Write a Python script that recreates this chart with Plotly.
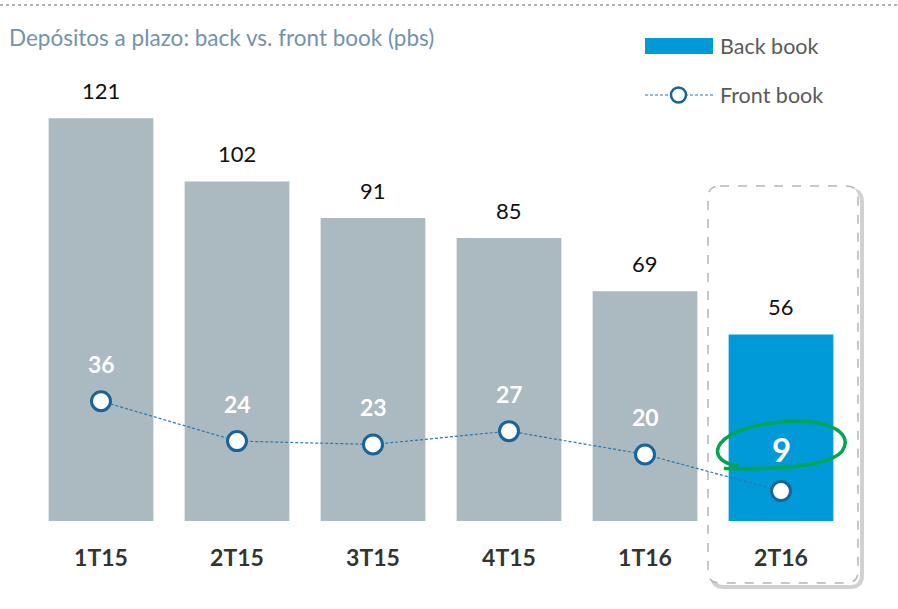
import plotly.graph_objects as go

categories = ["1T15", "2T15", "3T15", "4T15", "1T16", "2T16"]
back_book = [121, 102, 91, 85, 69, 56]
front_book = [36, 24, 23, 27, 20, 9]
bar_colors = ["#abb9c1"] * 5 + ["#009ad8"]

W, H = 898, 609
L, R, T, B = 33, 49, 60, 88
PW, PH = W - L - R, H - T - B
YMAX = 138.5

def px(xp):
    return (xp - L) / PW

def py(yp):
    return (H - B - yp) / PH

fig = go.Figure()
fig.add_trace(go.Bar(x=categories, y=back_book, marker=dict(color=bar_colors, line=dict(width=0)),
                     width=0.77, showlegend=False, hoverinfo="skip"))
fig.add_trace(go.Scatter(x=categories, y=front_book, mode="lines+markers",
                         line=dict(color="#2a78b0", width=1.2, dash="3px,2px"),
                         marker=dict(size=19, color="white", line=dict(color="#17649a", width=3)),
                         showlegend=False, hoverinfo="skip"))

ann = []
FONT = "Lato, 'Open Sans', sans-serif"
for c, v in zip(categories, back_book):
    ann.append(dict(x=c, y=v, text=str(v), showarrow=False, yshift=28,
                    font=dict(size=22, color="#111111", family=FONT)))
for i, (c, v) in enumerate(zip(categories, front_book)):
    last = i == len(categories) - 1
    ann.append(dict(x=c, y=v, text="<b>%d</b>" % v, showarrow=False, yshift=42 if last else 37,
                    font=dict(size=33 if last else 23, color="white", family=FONT)))

# title
ann.append(dict(xref="paper", yref="paper", x=px(7), y=py(38), xanchor="left", yanchor="middle",
                text="Depósitos a plazo: back vs. front book (pbs)", showarrow=False,
                font=dict(size=22.5, color="#7293ad", family=FONT)))
# legend texts
ann.append(dict(xref="paper", yref="paper", x=px(718), y=py(46), xanchor="left", yanchor="middle",
                text="Back book", showarrow=False, font=dict(size=21.5, color="#595959", family=FONT)))
ann.append(dict(xref="paper", yref="paper", x=px(718), y=py(95), xanchor="left", yanchor="middle",
                text="Front book", showarrow=False, font=dict(size=21.5, color="#595959", family=FONT)))

shapes = []
# top dotted rule
shapes.append(dict(type="line", xref="paper", yref="paper", x0=px(0), x1=px(898), y0=py(5), y1=py(5),
                   line=dict(color="#9a9a9a", width=1.5, dash="dot")))
# legend swatches
shapes.append(dict(type="rect", xref="paper", yref="paper", x0=px(645), x1=px(713), y0=py(54), y1=py(38),
                   fillcolor="#009ad8", line=dict(width=0)))
shapes.append(dict(type="line", xref="paper", yref="paper", x0=px(645), x1=px(713), y0=py(95), y1=py(95),
                   line=dict(color="#2a78b0", width=1.2, dash="3px,2px")))
shapes.append(dict(type="circle", xref="paper", yref="paper", x0=px(671), x1=px(686), y0=py(102.5), y1=py(87.5),
                   fillcolor="white", line=dict(color="#17649a", width=2.5)))

# rounded dashed box around last category
def rrect(x0, y0, x1, y1, r):
    rx, ry = r / PW, r / PH
    X0, X1, Y0, Y1 = px(x0), px(x1), py(y1), py(y0)  # Y0 bottom, Y1 top
    return ("M %f,%f L %f,%f Q %f,%f %f,%f L %f,%f Q %f,%f %f,%f L %f,%f Q %f,%f %f,%f L %f,%f Q %f,%f %f,%f Z" % (
        X0 + rx, Y1, X1 - rx, Y1, X1, Y1, X1, Y1 - ry, X1, Y0 + ry, X1, Y0, X1 - rx, Y0,
        X0 + rx, Y0, X0, Y0, X0, Y0 + ry, X0, Y1 - ry, X0, Y1, X0 + rx, Y1))

shapes.append(dict(type="path", xref="paper", yref="paper", path=rrect(712, 190, 862, 587, 12),
                   line=dict(color="rgba(0,0,0,0.18)", width=4), layer="below"))
shapes.append(dict(type="path", xref="paper", yref="paper", path=rrect(708, 186, 858, 583, 12),
                   fillcolor="white", line=dict(color="#b5b5b5", width=1.5, dash="dash"), layer="below"))

# green hand-drawn ellipse (data coords: category index 5 centre)
ell = ("M 4.69,16.5 C 4.45,17.5 4.45,27 4.95,29.5 C 5.3,31.5 5.55,27 5.45,21 "
       "C 5.35,16 4.9,15.5 4.58,15.8")
shapes.append(dict(type="path", xref="x", yref="y", path=ell, line=dict(color="#00a651", width=3.5)))

fig.update_layout(
    width=W, height=H, margin=dict(l=L, r=R, t=T, b=B),
    paper_bgcolor="white", plot_bgcolor="rgba(0,0,0,0)",
    bargap=0.23, annotations=ann, shapes=shapes,
    xaxis=dict(type="category", range=[-0.5, 5.5], showgrid=False, zeroline=False, showline=False,
               ticks="", tickfont=dict(size=23, color="#333333", family=FONT),
               ticklabelstandoff=21, tickvals=categories,
               ticktext=["<b>%s</b>" % c for c in categories]),
    yaxis=dict(range=[0, YMAX], visible=False, showgrid=False, zeroline=False),
)

fig.write_html("out.html", config={"displayModeBar": False},
               post_script="document.body.style.margin='0';")
